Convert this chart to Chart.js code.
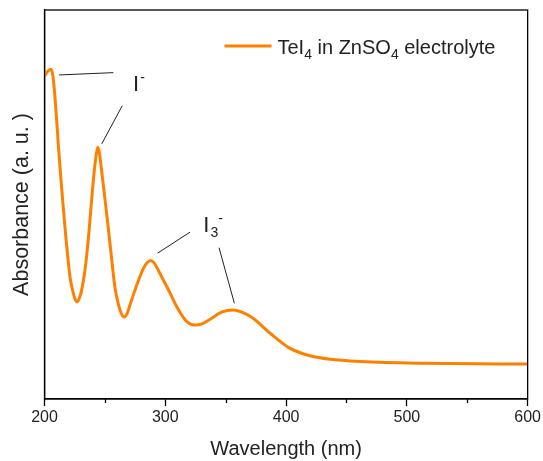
<!DOCTYPE html>
<html>
<head>
<meta charset="utf-8">
<script src="https://cdn.jsdelivr.net/npm/chart.js@4.4.1/dist/chart.umd.min.js"></script>
<style>
  html, body { margin: 0; padding: 0; background: #fff; }
  #wrap { width: 543px; height: 461px; }
</style>
</head>
<body>
<div id="wrap"><canvas id="uvChart"></canvas></div>
<script>
// UV-vis spectrum, values
const wavelength = [200, 202.5, 205.4, 207, 208.3, 210.1, 211.4, 214.1, 217, 221.1, 223.6, 225.3, 227.2, 229, 231.1, 233.1, 234.9, 237.1, 239.1, 241, 242.7, 244.1, 245.5, 247.2, 249.5, 252.6, 255.7, 258.4, 260.9, 263.4, 265.8, 268.3, 270.8, 276.4, 281.8, 284.9, 288, 290.7, 293.2, 298.4, 304, 309.5, 313.6, 317.8, 324.6, 330.4, 337.1, 347, 356.4, 364.4, 372.9, 386.8, 403.3, 419.9, 436.4, 453, 494, 536, 600];
const absorbance = [0.830, 0.842, 0.848, 0.830, 0.790, 0.715, 0.655, 0.545, 0.440, 0.314, 0.275, 0.257, 0.250, 0.260, 0.285, 0.322, 0.368, 0.440, 0.515, 0.580, 0.625, 0.647, 0.632, 0.589, 0.529, 0.445, 0.357, 0.285, 0.247, 0.221, 0.211, 0.219, 0.242, 0.293, 0.335, 0.350, 0.356, 0.350, 0.337, 0.306, 0.272, 0.237, 0.216, 0.199, 0.190, 0.193, 0.205, 0.224, 0.229, 0.222, 0.207, 0.169, 0.130, 0.111, 0.102, 0.098, 0.093, 0.091, 0.090];

const xTicksMajor = [200, 300, 400, 500, 600];
const xTicksMinor = [250, 350, 450, 550];

// leader lines [x1, y1, x2, y2] in data units
const leaderLines = [
    [212, 0.833, 257, 0.839],
    [264.4, 0.754, 247.4, 0.656],
    [320.5, 0.429, 293.7, 0.375],
    [344.5, 0.389, 357.2, 0.246]
];
const peakLabels = [
    { text: 'I', sub: '', sup: '-', x: 273.3, y: 0.792 },
    { text: 'I', sub: '3', sup: '-', x: 331.5, y: 0.430 }
];

const seriesColor = '#FF8000';
const FONT = "'Liberation Sans', Arial, sans-serif";

const points = wavelength.map((w, i) => ({ x: w, y: absorbance[i] }));

const framePlugin = {
    id: 'frameAndNotes',
    afterDraw(chart) {
        const { ctx, chartArea: a, scales: { x, y } } = chart;
        ctx.save();

        // box around the plot
        ctx.strokeStyle = '#000';
        ctx.lineWidth = 1.3;
        ctx.strokeRect(a.left, a.top, a.right - a.left, a.bottom - a.top);

        // minor ticks
        ctx.beginPath();
        xTicksMinor.forEach(v => {
            const px = Math.round(x.getPixelForValue(v)) + 0.5;
            ctx.moveTo(px, a.bottom);
            ctx.lineTo(px, a.bottom + 4);
        });
        ctx.stroke();

        // leader lines
        ctx.strokeStyle = '#222';
        ctx.lineWidth = 1;
        ctx.beginPath();
        leaderLines.forEach(l => {
            ctx.moveTo(x.getPixelForValue(l[0]), y.getPixelForValue(l[1]));
            ctx.lineTo(x.getPixelForValue(l[2]), y.getPixelForValue(l[3]));
        });
        ctx.stroke();

        // peak labels
        ctx.fillStyle = '#222';
        ctx.textBaseline = 'alphabetic';
        ctx.textAlign = 'left';
        peakLabels.forEach(p => {
            let px = x.getPixelForValue(p.x);
            const py = y.getPixelForValue(p.y);
            ctx.font = '22px ' + FONT;
            ctx.fillText(p.text, px, py);
            px += ctx.measureText(p.text).width + 1;
            ctx.font = '14px ' + FONT;
            if (p.sub) {
                ctx.fillText(p.sub, px, py + 5);
                px += ctx.measureText(p.sub).width;
            }
            ctx.fillText(p.sup, px, py - 9);
        });

        // legend: line sample + text with subscripts
        const lx = a.left + 180, ly = a.top + 36;
        ctx.strokeStyle = seriesColor;
        ctx.lineWidth = 3;
        ctx.beginPath();
        ctx.moveTo(lx, ly);
        ctx.lineTo(lx + 47, ly);
        ctx.stroke();
        const parts = [['TeI', 0], ['4', 1], [' in ZnSO', 0], ['4', 1], [' electrolyte', 0]];
        let tx = lx + 53;
        const base = ly + 7.5;
        ctx.fillStyle = '#222';
        parts.forEach(([t, isSub]) => {
            ctx.font = (isSub ? '14px ' : '20px ') + FONT;
            ctx.fillText(t, tx, base + (isSub ? 5 : 0));
            tx += ctx.measureText(t).width;
        });

        ctx.restore();
    }
};

new Chart(document.getElementById('uvChart'), {
    type: 'line',
    data: {
        datasets: [{
            label: 'TeI4 in ZnSO4 electrolyte',
            data: points,
            borderColor: seriesColor,
            backgroundColor: seriesColor,
            borderWidth: 3,
            pointRadius: 0,
            fill: false,
            cubicInterpolationMode: 'monotone'
        }]
    },
    options: {
        responsive: true,
        maintainAspectRatio: false,
        animation: false,
        layout: { padding: { left: 0, right: 15, top: 10, bottom: 0 } },
        plugins: {
            legend: { display: false },
            tooltip: { enabled: false }
        },
        scales: {
            x: {
                type: 'linear',
                min: 200,
                max: 600,
                afterBuildTicks: scale => { scale.ticks = xTicksMajor.map(v => ({ value: v })); },
                afterFit: scale => { scale.height = 62; },
                ticks: {
                    color: '#222',
                    padding: 2,
                    font: { family: FONT, size: 16 },
                    maxRotation: 0
                },
                grid: { drawOnChartArea: false, tickLength: 7, tickColor: '#000', tickWidth: 1.3 },
                border: { color: '#000', width: 1.3 },
                title: {
                    display: true,
                    text: 'Wavelength (nm)',
                    color: '#222',
                    font: { family: FONT, size: 20 },
                    padding: { top: 0, bottom: 0 }
                }
            },
            y: {
                min: 0,
                max: 1,
                afterFit: scale => { scale.width = 44.5; },
                ticks: { display: false },
                grid: { display: false },
                border: { color: '#000', width: 1.3 },
                title: {
                    display: true,
                    text: 'Absorbance (a. u. )',
                    color: '#222',
                    font: { family: FONT, size: 21.5 },
                    padding: { top: 9, bottom: 0 }
                }
            }
        }
    },
    plugins: [framePlugin]
});
</script>
</body>
</html>
